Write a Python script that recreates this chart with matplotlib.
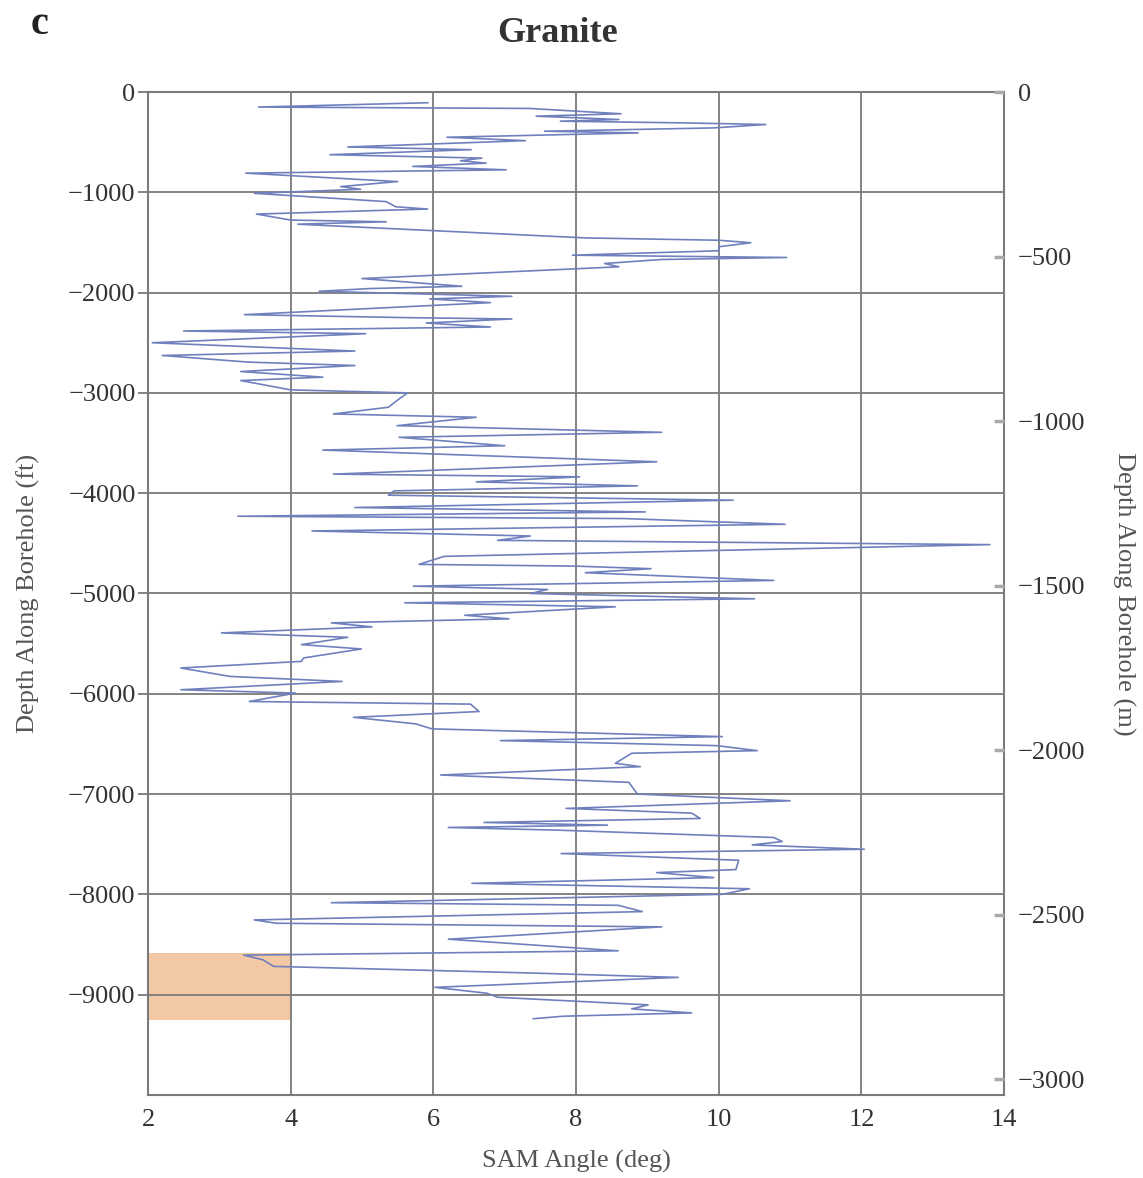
import matplotlib
matplotlib.use("Agg")
import matplotlib.pyplot as plt
import numpy as np
from matplotlib.patches import Rectangle

# ---------------- data ----------------
depth_ft = [107, 150, 164, 217, 241, 274, 291, 308, 324, 358, 391, 408, 451, 485,
            548, 575, 625, 659, 686, 709, 742, 776, 809, 893, 943, 970, 1010, 1093,
            1144, 1167, 1217, 1277, 1294, 1318, 1455, 1478, 1503, 1543, 1583, 1627,
            1650, 1670, 1710, 1743, 1860, 1937, 1960, 1987, 2037, 2063, 2100, 2220,
            2250, 2263, 2303, 2343, 2383, 2410, 2500, 2583, 2627, 2693, 2727, 2787,
            2843, 2877, 2970, 3000, 3060, 3143, 3210, 3243, 3327, 3393, 3443, 3527,
            3570, 3687, 3810, 3837, 3887, 3927, 3977, 4020, 4070, 4143, 4187, 4230,
            4253, 4310, 4377, 4427, 4470, 4513, 4593, 4630, 4710, 4727, 4753, 4793,
            4870, 4927, 4960, 5000, 5053, 5093, 5133, 5217, 5253, 5293, 5333, 5393,
            5437, 5510, 5553, 5643, 5677, 5743, 5827, 5877, 5960, 5993, 6077, 6103,
            6177, 6235, 6300, 6350, 6427, 6467, 6517, 6567, 6593, 6693, 6727, 6810,
            6883, 7000, 7067, 7143, 7190, 7243, 7283, 7310, 7333, 7360, 7433, 7473,
            7507, 7550, 7593, 7660, 7753, 7783, 7833, 7890, 7944, 8000, 8083, 8109,
            8172, 8255, 8288, 8324, 8447, 8563, 8606, 8652, 8718, 8784, 8828, 8927,
            8986, 9026, 9102, 9142, 9182, 9215, 9240]
sam_deg = [5.92, 3.55, 7.35, 8.63, 7.44, 8.6, 7.78, 9.5, 10.66, 9.93, 7.56, 8.87, 6.19, 7.29,
           4.8, 6.53, 4.55, 6.68, 6.38, 6.74, 5.71, 7.02, 3.37, 5.5, 4.7, 4.98, 3.49, 5.34,
           5.47, 5.92, 3.52, 4.0, 5.34, 4.1, 8.14, 10.0, 10.45, 10.0, 10.0, 7.95,
           10.95, 9.2, 8.4, 8.6, 5.0, 6.4, 5.1, 4.4, 7.1, 5.95, 6.8, 3.35,
           5.65, 7.1, 5.9, 6.8, 2.5, 5.05, 2.06, 4.9, 2.2, 3.4, 4.9, 3.3,
           4.45, 3.3, 4.0, 5.64, 5.52, 5.37, 4.6, 6.6, 5.49, 9.2, 5.52, 7.0,
           4.45, 9.13, 4.6, 8.05, 6.6, 8.86, 5.45, 5.37, 10.2, 4.9, 8.97, 3.26,
           8.67, 10.93, 4.3, 7.36, 6.9, 13.8, 8.5, 6.15, 5.8, 7.98, 9.05, 8.13,
           10.77, 5.72, 7.6, 7.36, 10.5, 5.6, 8.55, 6.44, 7.06, 4.57, 5.14, 3.03,
           4.8, 4.15, 4.99, 4.18, 4.15, 2.46, 3.15, 4.72, 2.46, 4.07, 3.42, 6.52,
           6.64, 4.88, 5.75, 5.98, 10.05, 6.94, 9.97, 10.54, 8.78, 8.55, 8.9, 6.1,
           8.74, 8.86, 11.0, 7.86, 9.62, 9.74, 6.71, 8.44, 6.21, 7.75, 10.77, 10.89,
           10.47, 12.04, 7.79, 10.28, 10.24, 9.13, 9.93, 6.54, 10.43, 10.05, 4.57, 8.59,
           8.93, 3.49, 3.8, 9.2, 6.21, 8.59, 3.34, 3.61, 3.76, 7.36, 9.43, 6.02,
           6.75, 6.9, 9.01, 8.78, 9.62, 7.82, 7.4]

x_ticks = [2, 4, 6, 8, 10, 12, 14]
y_ticks_ft = [0, -1000, -2000, -3000, -4000, -5000, -6000, -7000, -8000, -9000]
y_ticks_m = [0, -500, -1000, -1500, -2000, -2500, -3000]
highlight_x = [2, 4]
highlight_depth = [-8580, -9250]
FT_TO_M = 0.3048

# ---------------- figure ----------------
plt.rcParams['font.family'] = ['Liberation Serif', 'DejaVu Serif']
fig = plt.figure(figsize=(11.43, 11.78), dpi=100)
ax = fig.add_axes([0.1295, 0.0705, 0.749, 0.8514])

grid_c = '#7a7a7a'
ax.set_xlim(2, 14)
ax.set_ylim(-10000, 0)
ax.set_xticks(x_ticks)
ax.set_yticks(y_ticks_ft)
ax.grid(True, color=grid_c, lw=1.3, zorder=1)
ax.set_axisbelow(True)

ax.add_patch(Rectangle((highlight_x[0], highlight_depth[1]),
                       highlight_x[1] - highlight_x[0],
                       highlight_depth[0] - highlight_depth[1],
                       facecolor='#f2c9a4', edgecolor='none', zorder=0.5))

ax.plot(sam_deg, [-d for d in depth_ft], color='#7080bd', lw=1.2, zorder=3)

for s in ax.spines.values():
    s.set_color(grid_c)
    s.set_linewidth(1.5)

ax.tick_params(axis='x', length=0, pad=10, labelsize=19, labelcolor='#333333')
ax.tick_params(axis='y', direction='out', length=7, width=1.3, color=grid_c,
               pad=2, labelsize=19, labelcolor='#333333')

ax.set_xlabel('SAM Angle (deg)', fontsize=19, color='#555555', labelpad=14)
ax.set_ylabel('Depth Along Borehole (ft)', fontsize=19, color='#555555', labelpad=20)

ax2 = ax.twinx()
ax2.set_ylim(-10000 * FT_TO_M, 0)
ax2.set_yticks(y_ticks_m)
for s in ax2.spines.values():
    s.set_visible(False)
ax2.tick_params(axis='y', direction='in', length=7, width=2.5, color='#aaaaaa',
                pad=10, labelsize=19, labelcolor='#333333')
ax2.set_ylabel('Depth Along Borehole (m)', fontsize=19, color='#555555',
               rotation=270, labelpad=36)

fig.text(0.4875, 0.9715, 'Granite', ha='center', va='center', fontsize=26,
         fontweight='bold', color='#333333')
fig.text(0.035, 0.979, 'c', ha='center', va='center', fontsize=29,
         fontweight='bold', color='#222222')

fig.savefig('out.png', dpi=100)
